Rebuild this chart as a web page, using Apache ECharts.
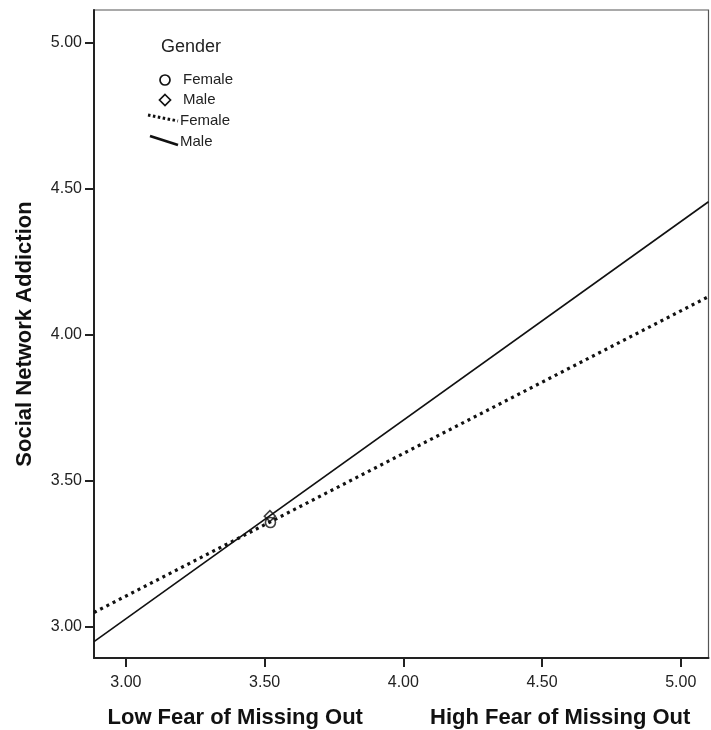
<!DOCTYPE html>
<html>
<head>
<meta charset="utf-8">
<script src="https://cdn.jsdelivr.net/npm/echarts@6/dist/echarts.min.js"></script>
<style>
html,body{margin:0;padding:0;background:#fff;}
#chart{width:711px;height:730px;}
</style>
</head>
<body>
<div id="chart"></div>
<script>
// ---- data ----
const xTicks = [3.00, 3.50, 4.00, 4.50, 5.00];
const yTicks = [3.00, 3.50, 4.00, 4.50, 5.00];
const xRange = [2.885, 5.10];
const yRange = [2.893, 5.113];
// fitted lines: x at the plot edges, predicted y
const fitX = [2.885, 5.10];
const femaleFit = [3.049, 4.131];
const maleFit = [2.949, 4.456];
// group means (x, y)
const femaleMean = [3.521, 3.357];
const maleMean = [3.519, 3.379];
const xTitleLow = 'Low Fear of Missing Out';
const xTitleHigh = 'High Fear of Missing Out';
const yTitle = 'Social Network Addiction';
const legendTitle = 'Gender';
const groups = ['Female', 'Male'];

const FONT = '"Liberation Sans", Arial, sans-serif';
const chart = echarts.init(document.getElementById('chart'), null, {renderer: 'canvas'});

const axisCommon = {
  axisLine: {show: true, onZero: false, lineStyle: {color: '#222', width: 2}},
  axisTick: {show: true, inside: false, length: 9, lineStyle: {color: '#222', width: 2}},
  splitLine: {show: false},
  axisLabel: {fontFamily: FONT, fontSize: 16, color: '#222', formatter: v => v.toFixed(2)}
};

const option = {
  animation: false,
  backgroundColor: '#fff',
  grid: {left: 94, top: 10, right: 2.5, bottom: 72, show: true, borderColor: '#555', borderWidth: 1.2, backgroundColor: '#fff'},
  xAxis: Object.assign({}, axisCommon, {
    type: 'value', min: xRange[0], max: xRange[1],
    axisTick: Object.assign({}, axisCommon.axisTick, {customValues: xTicks}),
    axisLabel: Object.assign({}, axisCommon.axisLabel, {customValues: xTicks, margin: 17})
  }),
  yAxis: Object.assign({}, axisCommon, {
    type: 'value', min: yRange[0], max: yRange[1],
    axisTick: Object.assign({}, axisCommon.axisTick, {customValues: yTicks}),
    axisLabel: Object.assign({}, axisCommon.axisLabel, {customValues: yTicks, margin: 12}),
    name: yTitle, nameLocation: 'middle', nameGap: 58,
    nameTextStyle: {fontFamily: FONT, fontSize: 22, fontWeight: 'bold', color: '#111'}
  }),
  series: [
    {
      name: 'Female fit', type: 'line', symbol: 'none', clip: true,
      data: fitX.map((x, i) => [x, femaleFit[i]]),
      lineStyle: {color: '#111', width: 3.2, type: [3, 4], cap: 'butt'}
    },
    {
      name: 'Male fit', type: 'line', symbol: 'none', clip: true,
      data: fitX.map((x, i) => [x, maleFit[i]]),
      lineStyle: {color: '#111', width: 1.6, type: 'solid'}
    },
    {
      name: 'Female mean', type: 'scatter', symbol: 'circle', symbolSize: 10,
      data: [femaleMean],
      itemStyle: {color: 'rgba(255,255,255,0)', borderColor: '#111', borderWidth: 1.6}
    },
    {
      name: 'Male mean', type: 'scatter', symbol: 'diamond', symbolSize: 11,
      data: [maleMean],
      itemStyle: {color: 'rgba(255,255,255,0)', borderColor: '#111', borderWidth: 1.6}
    }
  ],
  graphic: [
    {type: 'text', left: 107.5, top: 707, style: {text: xTitleLow, font: 'bold 22px ' + FONT, fill: '#111'}},
    {type: 'text', left: 430, top: 707, style: {text: xTitleHigh, font: 'bold 22px ' + FONT, fill: '#111'}},
    // legend
    {type: 'text', x: 161, y: 47, style: {text: legendTitle, font: '18px ' + FONT, fill: '#222', verticalAlign: 'middle'}},
    {type: 'circle', shape: {cx: 165, cy: 80, r: 5}, style: {fill: '#fff', stroke: '#111', lineWidth: 1.7}},
    {type: 'text', x: 183, y: 80, style: {text: groups[0], font: '15px ' + FONT, fill: '#222', verticalAlign: 'middle'}},
    {type: 'polygon', shape: {points: [[165, 94.5], [170.5, 100], [165, 105.5], [159.5, 100]]}, style: {fill: '#fff', stroke: '#111', lineWidth: 1.7}},
    {type: 'text', x: 183, y: 100, style: {text: groups[1], font: '15px ' + FONT, fill: '#222', verticalAlign: 'middle'}},
    {type: 'line', shape: {x1: 148, y1: 115, x2: 178, y2: 121}, style: {stroke: '#111', lineWidth: 3, lineDash: [2.5, 2.5]}},
    {type: 'text', x: 180, y: 121, style: {text: groups[0], font: '15px ' + FONT, fill: '#222', verticalAlign: 'middle'}},
    {type: 'line', shape: {x1: 150, y1: 136, x2: 178, y2: 145}, style: {stroke: '#111', lineWidth: 2.8}},
    {type: 'text', x: 180, y: 142, style: {text: groups[1], font: '15px ' + FONT, fill: '#222', verticalAlign: 'middle'}}
  ]
};
chart.setOption(option);
</script>
</body>
</html>
